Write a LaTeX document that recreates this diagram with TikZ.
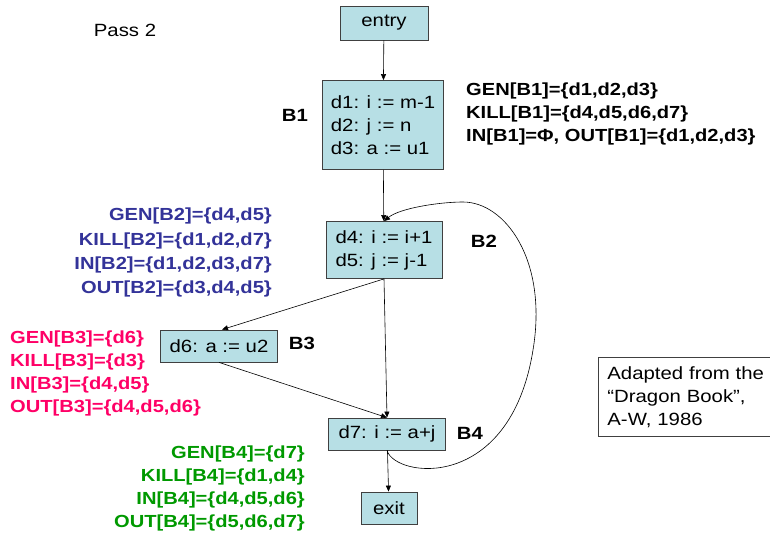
\documentclass[tikz,border=0pt]{standalone}
\usepackage{fontspec}
\setmainfont[FakeStretch=1.15]{Liberation Sans}
\usetikzlibrary{positioning, arrows.meta}

\definecolor{blockfill}{RGB}{183,223,229}
\definecolor{twoblue}{RGB}{51,51,153}
\definecolor{threepink}{RGB}{255,0,102}
\definecolor{fourgreen}{RGB}{0,153,0}

\begin{document}
\begin{tikzpicture}[
    x=1pt, y=-1pt,
    block/.style={draw=black!75, fill=blockfill, line width=0.8pt, align=left, inner sep=0pt, font=\fontsize{17.7}{23}\selectfont},
    arrow/.style={-{Triangle[length=6pt, width=5pt]}, line width=0.6pt},
    blabel/.style={font=\fontsize{17.7}{23}\selectfont\bfseries},
    info/.style={inner sep=0pt, font=\fontsize{17.5}{23}\selectfont\bfseries}
]
    \useasboundingbox (0,0) rectangle (770,537);

    % === Blocks ===
    \node[block, minimum width=88, minimum height=34] (entry) at (384,23) {entry};
    \node[block, minimum width=121, minimum height=89] (bOne) at (383,125)
        {d1: i := m-1\\d2: j := n\\d3: a := u1};
    \node[block, minimum width=116, minimum height=57] (bTwo) at (384,250)
        {d4: i := i+1\\d5: j := j-1};
    \node[block, minimum width=117, minimum height=32] (bThree) at (219,346) {d6: a := u2};
    \node[block, minimum width=117, minimum height=32] (bFour) at (387,434) {d7: i := a+j};
    \node[block, minimum width=56, minimum height=32] (exit) at (389,508) {exit};

    % Block names
    \node[blabel] (bOneName) at (295,115) {B1};
    \node[blabel] (bTwoName) at (484,241) {B2};
    \node[blabel] (bThreeName) at (302,343) {B3};
    \node[blabel] (bFourName) at (470,433) {B4};

    % === Edges ===
    \draw[arrow] (entry) -- (bOne);
    \draw[arrow] (bOne) -- (bTwo);
    \draw[arrow] (bTwo.south) -- ([xshift=3pt]bThree.north);
    \draw[arrow] (bTwo.south) -- (bFour.north);
    \draw[arrow] (bThree.south) -- (bFour.north);
    \draw[arrow] (bFour) -- (exit);

    % Back edge B4 -> B2
    \draw[arrow] (bFour.south) .. controls (395,478) and (510,493) .. (533,350)
        .. controls (548,260) and (505,202) .. (463,202)
        .. controls (440,202) and (400,208) .. (bTwo.north);

    % === Data-flow sets ===
    \node[info, anchor=north west, align=left] (bOneSets) at (466,83)
        {GEN[B1]=\{d1,d2,d3\}\\KILL[B1]=\{d4,d5,d6,d7\}\\IN[B1]=Φ, OUT[B1]=\{d1,d2,d3\}};
    \node[info, anchor=north east, align=right, text=twoblue,
          font=\fontsize{17.5}{24.3}\selectfont\bfseries] (bTwoSets) at (272,208)
        {GEN[B2]=\{d4,d5\}\\KILL[B2]=\{d1,d2,d7\}\\IN[B2]=\{d1,d2,d3,d7\}\\OUT[B2]=\{d3,d4,d5\}};
    \node[info, anchor=north west, align=left, text=threepink] (bThreeSets) at (10,331)
        {GEN[B3]=\{d6\}\\KILL[B3]=\{d3\}\\IN[B3]=\{d4,d5\}\\OUT[B3]=\{d4,d5,d6\}};
    \node[info, anchor=north east, align=right, text=fourgreen] (bFourSets) at (305,446)
        {GEN[B4]=\{d7\}\\KILL[B4]=\{d1,d4\}\\IN[B4]=\{d4,d5,d6\}\\OUT[B4]=\{d5,d6,d7\}};

    % === Annotations ===
    \node[font=\fontsize{17.7}{23}\selectfont] (passTitle) at (125,30) {Pass 2};
    \node[draw=black!75, line width=0.8pt, anchor=north west, minimum height=79,
          text width=165, inner xsep=9pt, inner ysep=0pt, align=left,
          font=\fontsize{17.7}{23}\selectfont] (sourceNote) at (598,357)
        {Adapted from the\\“Dragon Book”,\\A-W, 1986};
\end{tikzpicture}
\end{document}
